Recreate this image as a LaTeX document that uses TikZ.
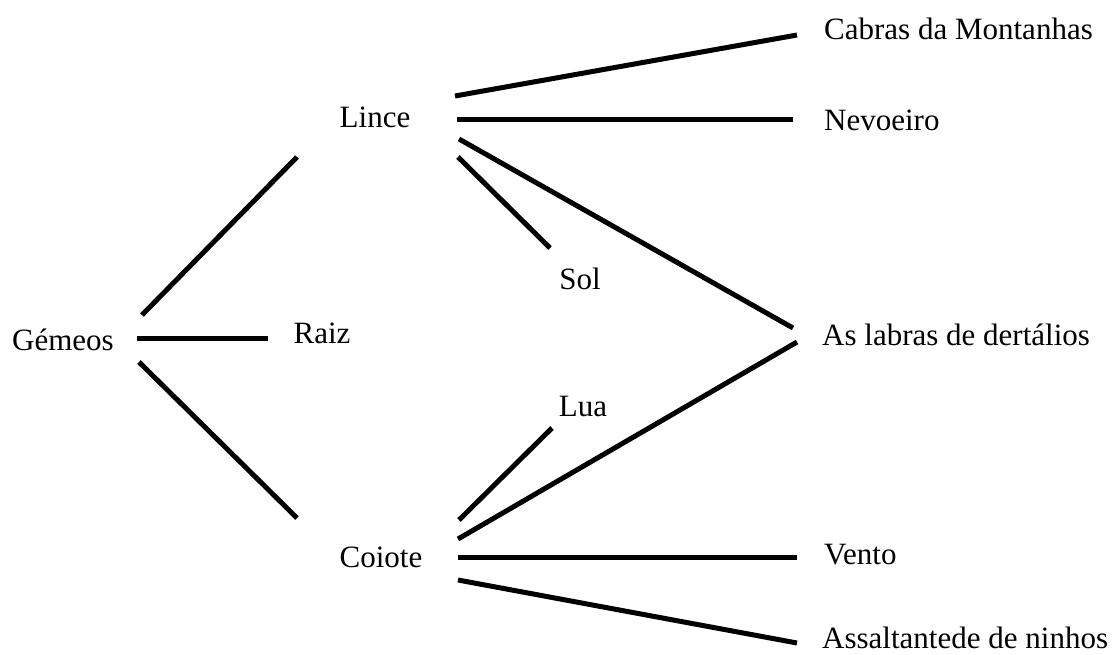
\documentclass[tikz,border=0pt]{standalone}
\usepackage{fontspec}
\setmainfont{Liberation Serif}
\begin{document}
\begin{tikzpicture}[x=1pt,y=-1pt,
  lbl/.style={inner sep=0pt,font=\fontsize{31}{37}\selectfont},
  llbl/.style={lbl,anchor=west},
  link/.style={line width=5pt}]
\useasboundingbox[fill=white] (0,0) rectangle (1119,654);
% labels
\node[lbl] (gemeos) at (63,340) {Gémeos};
\node[lbl] (raiz) at (322,333) {Raiz};
\node[lbl] (lince) at (375,117) {Lince};
\node[lbl] (coiote) at (381,557) {Coiote};
\node[lbl] (sol) at (580,279) {Sol};
\node[lbl] (lua) at (583,406) {Lua};
\node[llbl] (cabras) at (824,29) {Cabras da Montanhas};
\node[llbl] (nevoeiro) at (824,120) {Nevoeiro};
\node[llbl] (labras) at (822,335) {As labras de dertálios};
\node[llbl] (vento) at (824,555) {Vento};
\node[llbl] (assalt) at (822,638) {Assaltantede de ninhos};
% line ends next to each label
\coordinate (g-l) at (142,315);
\coordinate (g-r) at (137,338);
\coordinate (g-c) at (139,362);
\coordinate (l-g) at (297,157);
\coordinate (r-g) at (268,338);
\coordinate (c-g) at (297,518);
\coordinate (l-cb) at (455,96);
\coordinate (l-nv) at (457,119);
\coordinate (l-sl) at (458,157);
\coordinate (l-lb) at (459,139);
\coordinate (cb-l) at (797,35);
\coordinate (nv-l) at (793,119);
\coordinate (sl-l) at (550,248);
\coordinate (lb-l) at (793,328);
\coordinate (c-lu) at (459,520);
\coordinate (c-lb) at (458,539);
\coordinate (c-vt) at (458,557);
\coordinate (c-as) at (458,580);
\coordinate (lu-c) at (552,428);
\coordinate (lb-c) at (797,342);
\coordinate (vt-c) at (797,557);
\coordinate (as-c) at (797,643);
% connectors
\draw[link] (g-l) -- (l-g);
\draw[link] (g-r) -- (r-g);
\draw[link] (g-c) -- (c-g);
\draw[link] (l-cb) -- (cb-l);
\draw[link] (l-nv) -- (nv-l);
\draw[link] (l-sl) -- (sl-l);
\draw[link] (l-lb) -- (lb-l);
\draw[link] (c-lu) -- (lu-c);
\draw[link] (c-lb) -- (lb-c);
\draw[link] (c-vt) -- (vt-c);
\draw[link] (c-as) -- (as-c);
\end{tikzpicture}
\end{document}
